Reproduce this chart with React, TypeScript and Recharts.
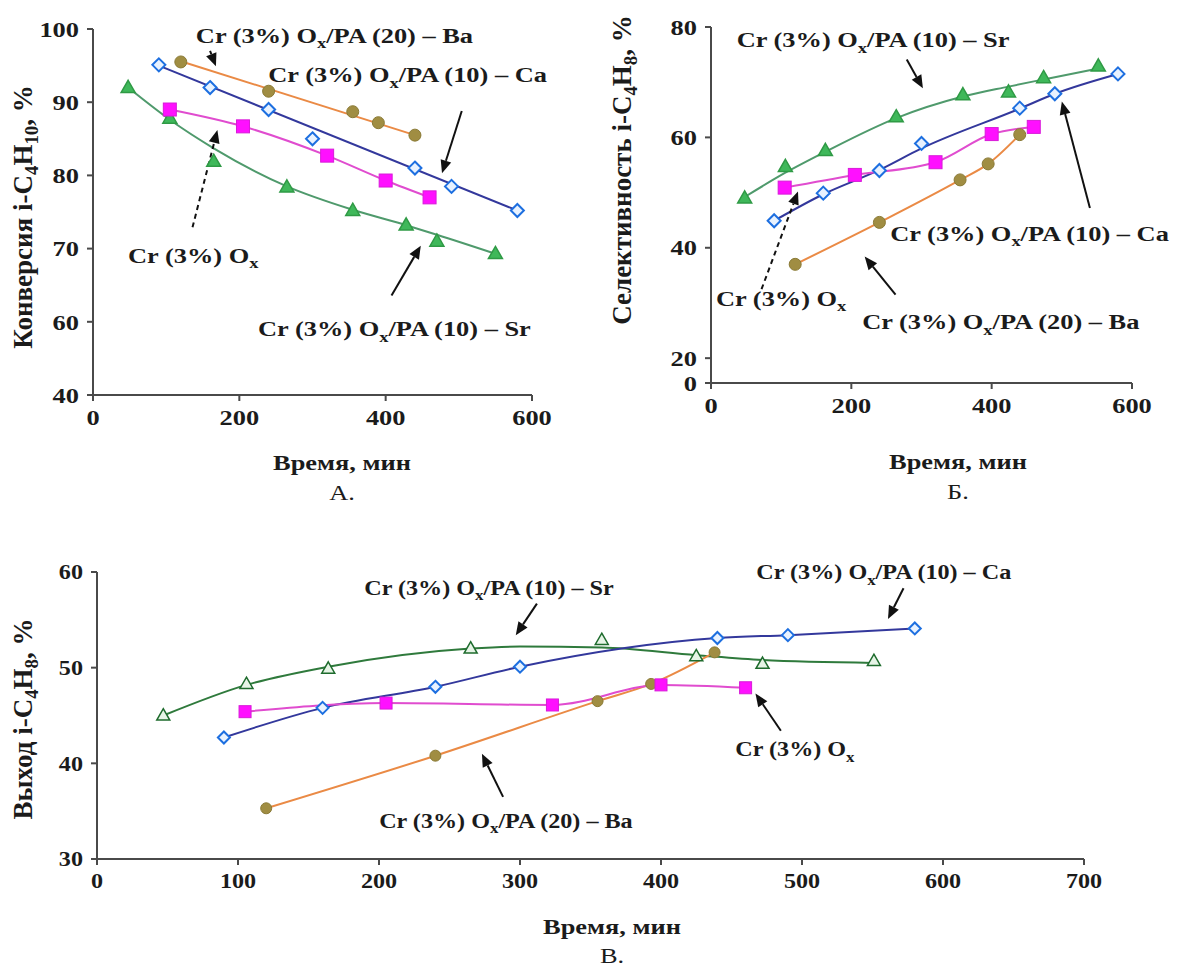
import React from 'react';
import { LineChart, Line, XAxis, YAxis, ReferenceLine, ReferenceDot } from 'recharts';

const SERIF = '"Liberation Serif", "Times New Roman", serif';
const INK = '#1b1b1b';
const AXIS = '#4a4a4a';

// ---- А: конверсия i-C4H10 ----
const convTimeBa = [120, 240, 355, 390, 440];
const convBa = [95.5, 91.5, 88.7, 87.2, 85.5];
const convTimeCa = [90, 160, 240, 300, 440, 490, 580];
const convCa = [95.1, 92.0, 89.0, 85.0, 81.0, 78.5, 75.2];
const convTimeOx = [105, 205, 320, 400, 460];
const convOx = [89.0, 86.7, 82.7, 79.3, 77.0];
const convTimeSr = [48, 105, 165, 265, 355, 428, 470, 550];
const convSr = [92.0, 87.8, 81.9, 78.4, 75.2, 73.2, 71.0, 69.3];
// trend lines as drawn in the picture
const convTrendTimeBa = [120, 440];
const convTrendBa = [95.6, 85.5];
const convTrendTimeCa = [90, 580];
const convTrendCa = [95.0, 75.2];
const convTrendTimeSr = [48, 105, 165, 265, 355, 428, 470, 550];
const convTrendSr = [92.0, 87.6, 83.7, 78.5, 75.3, 73.2, 71.9, 69.3];
const convXTicks = [0, 200, 400, 600];
const convYTicks = [50, 60, 70, 80, 90, 100];
const convYTickLabels = ['40', '60', '70', '80', '90', '100'];

// ---- Б: селективность i-C4H8 ----
const selTimeSr = [48, 106, 163, 264, 359, 424, 474, 552];
const selSr = [49.0, 54.7, 57.6, 63.7, 67.7, 68.2, 70.8, 72.9];
const selTrendSr = [49.2, 53.6, 57.4, 63.5, 67.4, 69.2, 70.5, 72.5];
const selTimeCa = [90, 160, 240, 300, 440, 490, 580];
const selCa = [44.9, 49.9, 54.0, 58.9, 65.3, 67.9, 71.5];
const selTrendCa = [44.9, 49.7, 54.1, 58.0, 65.2, 67.9, 71.5];
const selTimeOx = [105, 205, 320, 400, 460];
const selOx = [50.9, 53.2, 55.5, 60.6, 61.9];
const selTimeBa = [120, 240, 355, 395, 440];
const selBa = [37.0, 44.6, 52.3, 55.2, 60.5];
const selXTicks = [0, 200, 400, 600];
const selYTicks = [15.5, 20, 40, 60, 80];
const selYTickLabels = ['0', '20', '40', '60', '80'];

// ---- В: выход i-C4H8 ----
const yldTimeSr = [47, 106, 164, 265, 358, 425, 472, 551];
const yldSr = [45.0, 48.3, 49.9, 52.0, 52.9, 51.2, 50.4, 50.7];
const yldTrendTimeSr = [47, 106, 164, 265, 300, 358, 425, 472, 551];
const yldTrendSr = [45.0, 48.2, 50.1, 52.0, 52.2, 52.1, 51.3, 50.8, 50.5];
const yldTimeCa = [90, 160, 240, 300, 440, 490, 580];
const yldCa = [42.7, 45.8, 48.0, 50.1, 53.1, 53.4, 54.1];
const yldTimeOx = [105, 205, 323, 400, 460];
const yldOx = [45.4, 46.3, 46.1, 48.2, 47.9];
const yldTimeBa = [120, 240, 355, 393, 438];
const yldBa = [35.3, 40.8, 46.5, 48.3, 51.6];
const yldXTicks = [0, 100, 200, 300, 400, 500, 600, 700];
const yldYTicks = [30, 40, 50, 60];

const pts = (t: number[], v: number[]) => t.map((x, i) => ({ t: x, v: v[i] }));

// annotations: text centre and arrow (data coordinates of each panel)
const convNotes = [
  { x: 330, y: 99.2, pa: '20', m: 'Ba', a: [160, 97.0, 168, 94.9], dashed: false },
  { x: 430, y: 93.8, pa: '10', m: 'Ca', a: [504, 88.8, 477, 80.3], dashed: false },
  { x: 137, y: 69.1, pa: '', m: '', a: [136, 72.9, 170, 86.2], dashed: true },
  { x: 412, y: 59.1, pa: '10', m: 'Sr', a: [408, 63.6, 448, 70.4], dashed: false },
];
const selNotes = [
  { x: 231, y: 77.7, pa: '10', m: 'Sr', a: [279, 74.1, 302, 68.9], dashed: false },
  { x: 454, y: 42.7, pa: '10', m: 'Ca', a: [540, 47.2, 500, 66.5], dashed: false },
  { x: 100, y: 30.9, pa: '', m: '', a: [72, 32.5, 124, 50.2], dashed: true },
  { x: 413, y: 26.6, pa: '20', m: 'Ba', a: [263, 31.5, 219, 38.4], dashed: false },
];
const yldNotes = [
  { x: 278, y: 58.4, pa: '10', m: 'Sr', a: [312, 56.7, 297, 53.4], dashed: false },
  { x: 558, y: 60.0, pa: '10', m: 'Ca', a: [572, 58.3, 561, 55.1], dashed: false },
  { x: 495, y: 41.5, pa: '', m: '', a: [485, 43.4, 467, 47.3], dashed: false },
  { x: 290, y: 34.0, pa: '20', m: 'Ba', a: [288, 36.5, 273, 41.0], dashed: false },
];

const diamondDot = (stroke: string, fill: string, s: number) => (p: any) => {
  const { cx, cy, index } = p;
  if (cx == null || cy == null) return <g key={`d${index}`} />;
  return (
    <path key={`d${index}`} d={`M${cx},${cy - s}L${cx + s},${cy}L${cx},${cy + s}L${cx - s},${cy}Z`}
      fill={fill} stroke={stroke} strokeWidth={2} />
  );
};
const squareDot = (fill: string, s: number) => (p: any) => {
  const { cx, cy, index } = p;
  if (cx == null || cy == null) return <g key={`s${index}`} />;
  return <rect key={`s${index}`} x={cx - s / 2} y={cy - s / 2} width={s} height={s} fill={fill} stroke="#d81bd8" strokeWidth={1} />;
};
const circleDot = (fill: string, r: number) => (p: any) => {
  const { cx, cy, index } = p;
  if (cx == null || cy == null) return <g key={`c${index}`} />;
  return <circle key={`c${index}`} cx={cx} cy={cy} r={r} fill={fill} stroke="#8a7a35" strokeWidth={1} />;
};
const triangleDot = (stroke: string, fill: string, s: number) => (p: any) => {
  const { cx, cy, index } = p;
  if (cx == null || cy == null) return <g key={`t${index}`} />;
  const h = s * 0.87;
  return (
    <path key={`t${index}`} d={`M${cx},${cy - h * 0.6}L${cx + s / 2},${cy + h * 0.4}L${cx - s / 2},${cy + h * 0.4}Z`}
      fill={fill} stroke={stroke} strokeWidth={1.5} />
  );
};

const arrowShape = (dashed: boolean) => (p: any) => {
  const { x1, y1, x2, y2 } = p;
  const ang = Math.atan2(y2 - y1, x2 - x1);
  const L = 13;
  const W = 5.5;
  const bx = x2 - L * Math.cos(ang);
  const by = y2 - L * Math.sin(ang);
  const px = -Math.sin(ang) * W;
  const py = Math.cos(ang) * W;
  return (
    <g>
      <line x1={x1} y1={y1} x2={bx} y2={by} stroke="#111" strokeWidth={2} strokeDasharray={dashed ? '5 4' : undefined} />
      <polygon points={`${x2},${y2} ${bx + px},${by + py} ${bx - px},${by - py}`} fill="#111" />
    </g>
  );
};

const noteShape = (pa: string, m: string, size: number, sx: number) => (p: any) => (
  <text transform={`translate(${p.cx},${p.cy}) scale(${sx},1)`} textAnchor="middle" dy="0.35em"
    fontFamily={SERIF} fontWeight="bold" fontSize={size} fill={INK}>
    Cr (3%) O<tspan fontSize={size * 0.7} dy={size * 0.25}>x</tspan>
    {pa ? <tspan dy={-size * 0.25}>/PA ({pa}) – {m}</tspan> : null}
  </text>
);

const xTick = (size: number, sx: number) => (p: any) => (
  <text transform={`translate(${p.x},${p.y}) scale(${sx},1)`} textAnchor="middle" dy="0.71em"
    fontFamily={SERIF} fontWeight="bold" fontSize={size} fill={INK}>
    {p.payload.value}
  </text>
);
const yTick = (size: number, sx: number, ticks: number[], labels?: string[]) => (p: any) => {
  const i = ticks.indexOf(p.payload.value);
  const txt = labels && i >= 0 ? labels[i] : String(p.payload.value);
  return (
    <text transform={`translate(${p.x},${p.y}) scale(${sx},1)`} textAnchor="end" dy="0.35em"
      fontFamily={SERIF} fontWeight="bold" fontSize={size} fill={INK}>
      {txt}
    </text>
  );
};

const axisLine = { stroke: AXIS, strokeWidth: 2 };

const renderNotes = (notes: typeof convNotes, size: number, sx: number) => [
  ...notes.map((n, i) => (
    <ReferenceLine key={`a${i}`} segment={[{ x: n.a[0], y: n.a[1] }, { x: n.a[2], y: n.a[3] }]}
      ifOverflow="visible" shape={arrowShape(n.dashed)} />
  )),
  ...notes.map((n, i) => (
    <ReferenceDot key={`n${i}`} x={n.x} y={n.y} ifOverflow="visible" shape={noteShape(n.pa, n.m, size, sx)} />
  )),
];

const Txt = ({ x, y, size, bold = true, sx = 1, rot = false, children }: any) => (
  <div style={{
    position: 'absolute', left: x, top: y, whiteSpace: 'nowrap', lineHeight: 1,
    transform: `translate(-50%,-50%)${rot ? ' rotate(-90deg)' : ''} scaleX(${sx})`,
    fontFamily: SERIF, fontWeight: bold ? 'bold' : 'normal', fontSize: size, color: INK,
  }}>{children}</div>
);
const Sub = ({ children }: any) => (
  <span style={{ fontSize: '0.7em', position: 'relative', top: '0.3em' }}>{children}</span>
);

const trend = (d: any[], color: string) => (
  <Line data={d} dataKey="v" type="monotone" stroke={color} strokeWidth={2} dot={false} activeDot={false} isAnimationActive={false} />
);
const marks = (d: any[], dot: any) => (
  <Line data={d} dataKey="v" stroke="none" dot={dot} activeDot={false} isAnimationActive={false} />
);

const C_BA = '#ea8a45';
const C_CA = '#33389c';
const C_OX = '#e04ccf';
const C_SR = '#4f9a6c';
const C_SR_DARK = '#2f7a3c';

export default function App() {
  return (
    <div style={{ position: 'absolute', left: 0, top: 0, width: 1179, height: 979, background: '#fff', overflow: 'hidden' }}>
      {/* А */}
      <div style={{ position: 'absolute', left: 0, top: 0 }}>
        <LineChart width={575} height={470} margin={{ top: 29, right: 43, bottom: 35, left: 0 }}>
          <XAxis type="number" dataKey="t" domain={[0, 600]} ticks={convXTicks} allowDataOverflow
            axisLine={axisLine} tickLine={axisLine} tickSize={6} tickMargin={8} height={40} tick={xTick(22, 1.2)} />
          <YAxis type="number" domain={[50, 100]} ticks={convYTicks} allowDataOverflow width={93}
            axisLine={axisLine} tickLine={axisLine} tickSize={6} tickMargin={8} tick={yTick(22, 1.2, convYTicks, convYTickLabels)} />
          {trend(pts(convTrendTimeSr, convTrendSr), C_SR)}
          {trend(pts(convTimeOx, convOx), C_OX)}
          {trend(pts(convTrendTimeCa, convTrendCa), C_CA)}
          {trend(pts(convTrendTimeBa, convTrendBa), C_BA)}
          {marks(pts(convTimeSr, convSr), triangleDot('#2f9a45', '#3fb85a', 14))}
          {marks(pts(convTimeOx, convOx), squareDot('#ff10ff', 13))}
          {marks(pts(convTimeCa, convCa), diamondDot('#1d6fe0', '#e8f2ff', 6.5))}
          {marks(pts(convTimeBa, convBa), circleDot('#a08d42', 6))}
          {renderNotes(convNotes, 22, 1.2)}
        </LineChart>
      </div>

      {/* Б */}
      <div style={{ position: 'absolute', left: 600, top: 0 }}>
        <LineChart width={579} height={470} margin={{ top: 27, right: 47, bottom: 47, left: 0 }}>
          <XAxis type="number" dataKey="t" domain={[0, 600]} ticks={selXTicks} allowDataOverflow
            axisLine={axisLine} tickLine={axisLine} tickSize={6} tickMargin={8} height={40} tick={xTick(22, 1.2)} />
          <YAxis type="number" domain={[15.5, 80]} ticks={selYTicks} allowDataOverflow width={111}
            axisLine={axisLine} tickLine={axisLine} tickSize={6} tickMargin={8} tick={yTick(22, 1.2, selYTicks, selYTickLabels)} />
          {trend(pts(selTimeSr, selTrendSr), C_SR)}
          {trend(pts(selTimeBa, selBa), C_BA)}
          {trend(pts(selTimeCa, selTrendCa), C_CA)}
          {trend(pts(selTimeOx, selOx), C_OX)}
          {marks(pts(selTimeSr, selSr), triangleDot('#2f9a45', '#3fb85a', 14))}
          {marks(pts(selTimeBa, selBa), circleDot('#a08d42', 6))}
          {marks(pts(selTimeCa, selCa), diamondDot('#1d6fe0', '#e8f2ff', 6.5))}
          {marks(pts(selTimeOx, selOx), squareDot('#ff10ff', 13))}
          {renderNotes(selNotes, 22, 1.2)}
        </LineChart>
      </div>

      {/* В */}
      <div style={{ position: 'absolute', left: 0, top: 540 }}>
        <LineChart width={1179} height={400} margin={{ top: 32, right: 95, bottom: 41, left: 0 }}>
          <XAxis type="number" dataKey="t" domain={[0, 700]} ticks={yldXTicks} allowDataOverflow
            axisLine={axisLine} tickLine={axisLine} tickSize={6} tickMargin={8} height={40} tick={xTick(21, 1.15)} />
          <YAxis type="number" domain={[30, 60]} ticks={yldYTicks} allowDataOverflow width={97}
            axisLine={axisLine} tickLine={axisLine} tickSize={6} tickMargin={8} tick={yTick(21, 1.15, yldYTicks)} />
          {trend(pts(yldTrendTimeSr, yldTrendSr), C_SR_DARK)}
          {trend(pts(yldTimeBa, yldBa), C_BA)}
          {trend(pts(yldTimeCa, yldCa), C_CA)}
          {trend(pts(yldTimeOx, yldOx), C_OX)}
          {marks(pts(yldTimeSr, yldSr), triangleDot('#1e6b2d', '#e6f4e6', 13))}
          {marks(pts(yldTimeBa, yldBa), circleDot('#a08d42', 5.5))}
          {marks(pts(yldTimeCa, yldCa), diamondDot('#1d6fe0', '#e8f2ff', 6))}
          {marks(pts(yldTimeOx, yldOx), squareDot('#ff10ff', 12))}
          {renderNotes(yldNotes, 21, 1.15)}
        </LineChart>
      </div>

      {/* axis titles and captions */}
      <Txt x={23} y={217} size={27} rot>Конверсия i-C<Sub>4</Sub>H<Sub>10</Sub>, %</Txt>
      <Txt x={342} y={463} size={22} sx={1.2}>Время, мин</Txt>
      <Txt x={342} y={493} size={22} sx={1.2} bold={false}>А.</Txt>

      <Txt x={622} y={170} size={27} rot>Селективность i-C<Sub>4</Sub>H<Sub>8</Sub>, %</Txt>
      <Txt x={958} y={462} size={22} sx={1.2}>Время, мин</Txt>
      <Txt x={958} y={492} size={22} sx={1.2} bold={false}>Б.</Txt>

      <Txt x={23} y={719} size={27} rot>Выход i-C<Sub>4</Sub>H<Sub>8</Sub>, %</Txt>
      <Txt x={612} y={927} size={22} sx={1.2}>Время, мин</Txt>
      <Txt x={612} y={956} size={22} sx={1.2} bold={false}>В.</Txt>
    </div>
  );
}
